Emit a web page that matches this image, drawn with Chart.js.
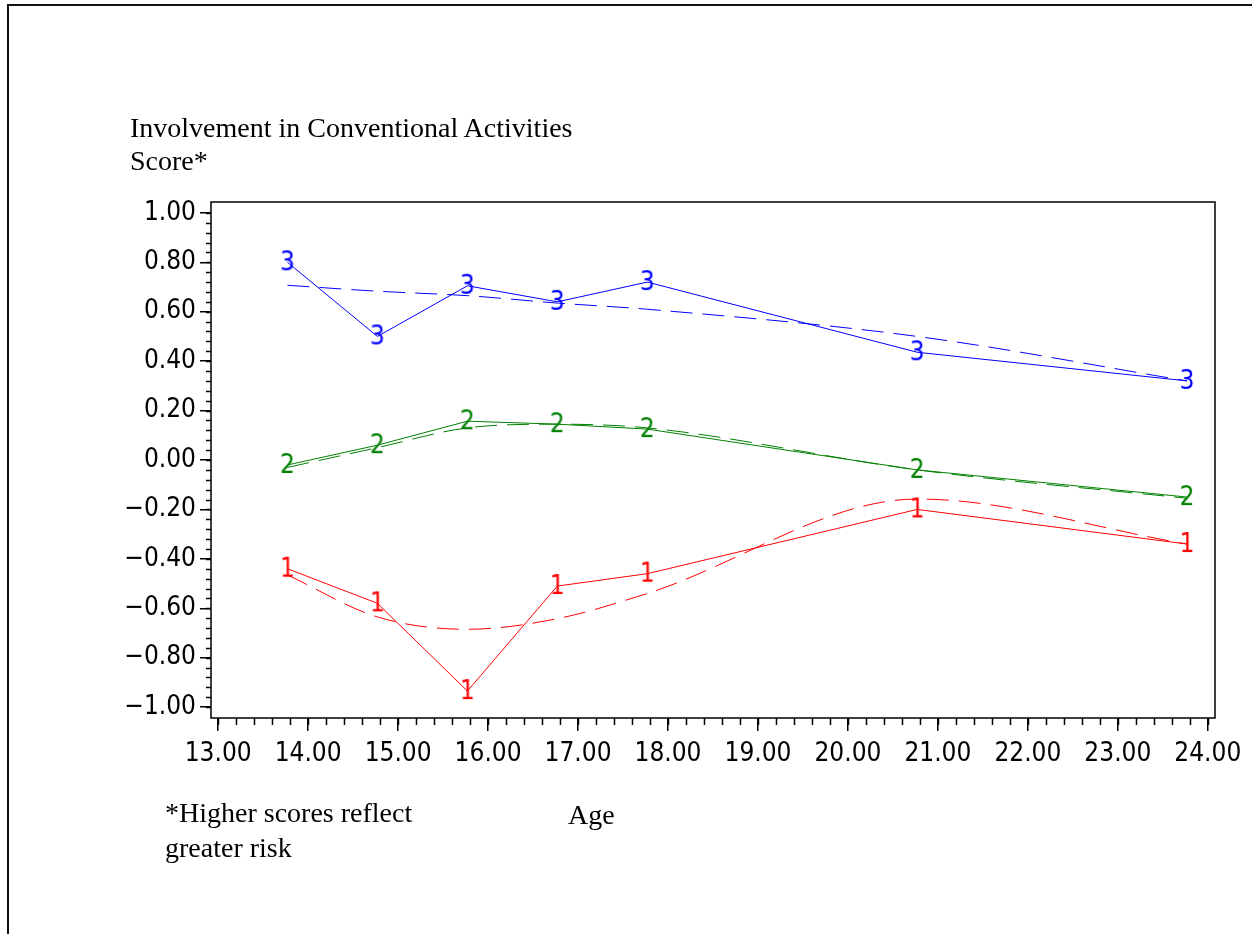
<!DOCTYPE html>
<html>
<head>
<meta charset="utf-8">
<script src="https://cdn.jsdelivr.net/npm/chart.js@4.4.1/dist/chart.umd.min.js"></script>
<style>
  html, body { margin: 0; padding: 0; background: #fff; }
  #wrap { position: relative; width: 1252px; height: 934px; overflow: hidden; }
  #frame { position: absolute; left: 7px; top: 4px; width: 1260px; height: 940px;
           border-left: 2px solid #111; border-top: 2px solid #111; }
  canvas { position: absolute; left: 0; top: 0; }
  .txt { position: absolute; font-family: "Liberation Serif", "Times New Roman", serif;
         font-size: 28px; color: #000; white-space: nowrap; line-height: 33px; }
</style>
</head>
<body>
<div id="wrap">
  <div id="frame"></div>
  <canvas id="c" width="1252" height="934"></canvas>
  <div class="txt" style="left:130px; top:111px;">Involvement in Conventional Activities<br>Score*</div>
  <div class="txt" style="left:165px; top:795px; line-height:35px;">*Higher scores reflect<br>greater risk</div>
  <div class="txt" style="left:568px; top:798px;">Age</div>
</div>
<script>
// ages of the waves
const ages = [13.77, 14.77, 15.77, 16.77, 17.77, 20.77, 23.77];

// observed means (solid lines, symbols 1/2/3)
const group1 = [-0.44, -0.58, -0.935, -0.51, -0.46, -0.20, -0.34];
const group2 = [-0.02, 0.06, 0.157, 0.145, 0.125, -0.04, -0.15];
const group3 = [0.80, 0.50, 0.705, 0.64, 0.72, 0.436, 0.32];

// fitted curves (dashed)
const fit1 = [-0.465, -0.635, -0.685, -0.642, -0.54, -0.158, -0.34];
const fit2 = [-0.03, 0.05, 0.13, 0.145, 0.13, -0.04, -0.155];
const fit3 = [0.707, 0.683, 0.665, 0.635, 0.61, 0.50, 0.32];

const xTicks = [13, 14, 15, 16, 17, 18, 19, 20, 21, 22, 23, 24];
const yTicks = [-1, -0.8, -0.6, -0.4, -0.2, 0, 0.2, 0.4, 0.6, 0.8, 1];

const RED = '#ff0000';
const GREEN = '#008000';
const BLUE = '#0000ff';

function symbol(ch, color) {
  const cv = document.createElement('canvas');
  cv.width = 14; cv.height = 28;
  const g = cv.getContext('2d');
  g.fillStyle = color;
  g.font = '26px "Liberation Sans Narrow", "DejaVu Sans Condensed", sans-serif';
  g.textAlign = 'center';
  g.textBaseline = 'middle';
  g.fillText(ch, 7, 15);
  return cv;
}

const pts = arr => ages.map((a, i) => ({ x: a, y: arr[i] }));

function solid(arr, color, ch) {
  return {
    data: pts(arr), borderColor: color, borderWidth: 1,
    pointStyle: symbol(ch, color), pointRadius: 8, tension: 0
  };
}
function dashed(arr, color) {
  return {
    data: pts(arr), borderColor: color, borderWidth: 1, borderDash: [22, 10],
    pointRadius: 0, cubicInterpolationMode: 'monotone'
  };
}

const tickFont = { family: '"Liberation Sans Narrow", "DejaVu Sans Condensed", sans-serif', size: 26 };

// frame + minor ticks
const axisExtras = {
  id: 'axisExtras',
  afterDraw(chart) {
    const { ctx, chartArea: a, scales } = chart;
    ctx.save();
    ctx.strokeStyle = '#000';
    ctx.lineWidth = 1.5;
    ctx.strokeRect(a.left, a.top, a.right - a.left, a.bottom - a.top);
    ctx.beginPath();
    for (let v = 13; v <= 24.001; v += 0.2) {
      const px = Math.round(scales.x.getPixelForValue(v)) + 0.5;
      ctx.moveTo(px, a.bottom); ctx.lineTo(px, a.bottom + 7);
    }
    for (let v = -1; v <= 1.001; v += 0.04) {
      const py = Math.round(scales.y.getPixelForValue(v)) + 0.5;
      ctx.moveTo(a.left, py); ctx.lineTo(a.left - 5, py);
    }
    ctx.stroke();
    ctx.restore();
  }
};

new Chart(document.getElementById('c'), {
  type: 'line',
  data: {
    datasets: [
      dashed(fit1, RED), solid(group1, RED, '1'),
      dashed(fit2, GREEN), solid(group2, GREEN, '2'),
      dashed(fit3, BLUE), solid(group3, BLUE, '3')
    ]
  },
  options: {
    responsive: false,
    animation: false,
    layout: { padding: { left: 0, top: 202, right: 37, bottom: 0 } },
    plugins: { legend: { display: false }, tooltip: { enabled: false } },
    scales: {
      x: {
        type: 'linear', min: 12.92, max: 24.08,
        afterBuildTicks: s => { s.ticks = xTicks.map(v => ({ value: v })); },
        afterFit: s => { s.height = 216; },
        grid: { drawOnChartArea: false, tickLength: 13, color: '#000', lineWidth: 1.5 },
        border: { display: false },
        ticks: { color: '#000', font: tickFont, padding: 8, maxRotation: 0,
                 callback: v => v.toFixed(2) }
      },
      y: {
        type: 'linear', min: -1.044, max: 1.044,
        afterBuildTicks: s => { s.ticks = yTicks.map(v => ({ value: v })); },
        afterFit: s => { s.width = 211; },
        grid: { drawOnChartArea: false, tickLength: 11, color: '#000', lineWidth: 1.5 },
        border: { display: false },
        ticks: { color: '#000', font: tickFont, padding: 4,
                 callback: v => (v < 0 ? '\u2212' : '') + Math.abs(v).toFixed(2) }
      }
    }
  },
  plugins: [axisExtras]
});
</script>
</body>
</html>
